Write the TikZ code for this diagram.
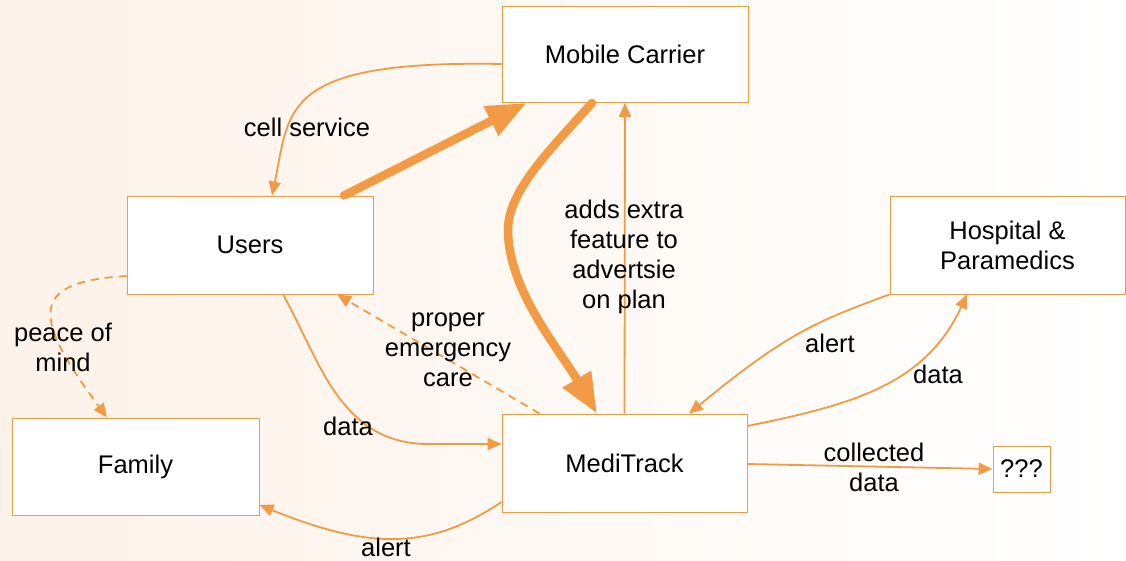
\documentclass[tikz,border=0pt]{standalone}
\usepackage{fontspec}
\setmainfont{Liberation Sans}
\usetikzlibrary{arrows.meta}
\definecolor{orng}{RGB}{243,154,68}
\definecolor{bgl}{RGB}{253,242,233}
\definecolor{bgr}{RGB}{255,255,255}
\begin{document}
\begin{tikzpicture}[x=1pt,y=-1pt,
  every node/.style={font=\fontsize{25.5}{30}\selectfont, text=black},
  box/.style={draw=orng, fill=white, line width=0.9pt, inner sep=0pt, align=center},
  lbl/.style={align=center, inner sep=0pt},
  thin/.style={draw=orng, line width=1.8pt, -{Triangle[length=14pt,width=12pt]}},
  thick/.style={draw=orng, line width=8.5pt, line cap=round, -{Triangle[length=40pt,width=31pt]}},
  dsh/.style={dash pattern=on 8pt off 6pt}
]
\shade[left color=bgl, right color=bgr] (0,0) rectangle (1126,561);
\useasboundingbox (0,0) rectangle (1126,561);

\node[box, minimum width=246pt, minimum height=96pt] (mc) at (625,54.5) {Mobile Carrier};
\node[box, minimum width=246pt, minimum height=98pt] (users) at (250,245) {Users};
\node[box, minimum width=235pt, minimum height=98pt] (hosp) at (1007.5,245) {Hospital \&\\Paramedics};
\node[box, minimum width=247pt, minimum height=97pt] (family) at (135.5,466.5) {Family};
\node[box, minimum width=245pt, minimum height=98pt] (medi) at (624.5,463) {MediTrack};
\node[box, minimum width=57pt, minimum height=46pt] (q) at (1021.5,469) {???};

% cell service
\draw[thin] ([yshift=-9.5pt]mc.west) .. controls +(-222,-4) and +(18,-86) .. ([xshift=22pt]users.north);
\node[lbl] (lcell) at (307,127) {cell service};

% users -> mobile carrier (thick)
\draw[thick] ([xshift=94pt]users.north) -- ([xshift=25pt]mc.south west);

% mobile carrier -> meditrack (thick curve)
\draw[thick] ([xshift=-33pt]mc.south) .. controls +(-40,45) and +(0,-40) .. (508,230)
  .. controls +(0,60) and +(-37,-63) .. ([xshift=-27.5pt]medi.north);

% meditrack -> mobile carrier
\draw[thin] (medi.north) -- (mc.south);
\node[lbl] (ladds) at (624,257) {adds extra\\feature to\\advertsie\\on plan};

% users -> meditrack data
\draw[thin] ([xshift=33pt]users.south) .. controls +(37,66) and +(-90,1) .. (430,444) -- ([yshift=19pt]medi.west);
\node[lbl] (ldata) at (348,426) {data};

% meditrack -> users dashed
\draw[thin, dsh] ([xshift=38pt]medi.north west) -- ([xshift=87pt]users.south);
\node[lbl] (lproper) at (448,350) {proper\\emergency\\care};

% users -> family dashed
\draw[thin, dsh] ([yshift=-31pt]users.west) .. controls +(-102,6) and +(-72,-98) .. ([xshift=-28.5pt]family.north);
\node[lbl] (lpeace) at (63,347) {peace of\\mind};

% meditrack -> family alert
\draw[thin] ([yshift=-39pt]medi.west) .. controls +(-72,48) and +(111,45) .. ([yshift=-38.5pt]family.east);
\node[lbl] (lalert1) at (386,547) {alert};

% hospital -> meditrack alert
\draw[thin] (hosp.south west) .. controls +(-70,26) and +(101,-83) .. ([xshift=64.5pt]medi.north);
\node[lbl] (lalert2) at (830,343) {alert};

% meditrack -> hospital data
\draw[thin] ([yshift=37pt]medi.east) .. controls +(103,-21) and +(-42,91) .. ([xshift=-40.5pt]hosp.south);
\node[lbl] (ldata2) at (938,374) {data};

% meditrack -> ??? collected data
\draw[thin] ([yshift=-1pt]medi.east) -- (q.west);
\node[lbl] (lcoll) at (874,467) {collected\\data};
\end{tikzpicture}
\end{document}
